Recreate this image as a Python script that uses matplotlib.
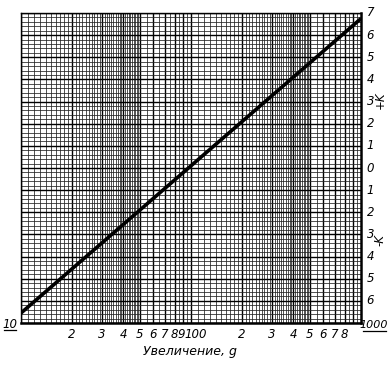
import numpy as np
import matplotlib
matplotlib.use("Agg")
import matplotlib.pyplot as plt
from matplotlib.lines import Line2D

# Data
g_vals = [10, 100, 1000]
k_vals = [-6.55, 0.1, 6.75]

x_tick_pos = [20, 30, 40, 50, 60, 70, 80, 90, 100, 200, 300, 400, 500, 600, 700, 800]
x_tick_lbl = ["2", "3", "4", "5", "6", "7", "8", "9", "100", "2", "3", "4", "5", "6", "7", "8"]
y_tick_pos = [7, 6, 5, 4, 3, 2, 1, 0, -1, -2, -3, -4, -5, -6]
y_tick_lbl = ["7", "6", "5", "4", "3", "2", "1", "0", "1", "2", "3", "4", "5", "6"]

FONT = ["Liberation Sans Narrow", "DejaVu Sans"]

fig = plt.figure(figsize=(3.89, 3.65), dpi=100)
ax = fig.add_axes([21/389, 1-323/365, 340/389, 310/365])
ax.set_xscale("log")
ax.set_xlim(10, 1000)
ax.set_ylim(-7, 7)

# grid (graph paper)
minor_x = []
for dec in (1, 10):
    minor_x += list(np.arange(10, 20, 1) * dec)
    minor_x += list(np.arange(20, 50, 1) * dec)
    minor_x += list(np.arange(50, 100, 5) * dec)
major_x = [v * d for d in (1, 10) for v in range(10, 100, 10)]
for v in minor_x:
    ax.axvline(v, color="#222222", lw=0.55, zorder=1)
for v in major_x:
    ax.axvline(v, color="black", lw=1.0, zorder=1)
minor_y = np.arange(-7, 7.01, 0.2)
for v in minor_y:
    ax.axhline(v, color="#222222", lw=0.55, zorder=1)
for v in range(-7, 8):
    ax.axhline(v, color="black", lw=1.0, zorder=1)

ax.plot(g_vals, k_vals, color="black", lw=2.6, zorder=3, solid_capstyle="butt")

ax.set_xticks([])
ax.set_yticks([])
ax.minorticks_off()
for s in ("left", "top"):
    ax.spines[s].set_linewidth(1.0)
for s in ("right", "bottom"):
    ax.spines[s].set_linewidth(1.8)

# x tick labels
shift = {"9": 0.975, "100": 1.07}
for p, l in zip(x_tick_pos, x_tick_lbl):
    px = p * shift.get(l, 1.0) if p in (90, 100) else p
    ax.text(px, -7.5, l, ha="center", va="center", fontsize=8.5, style="italic",
            family=FONT, transform=ax.transData, clip_on=False)
# y tick labels on right
for p, l in zip(y_tick_pos, y_tick_lbl):
    ax.text(1080, p, l, ha="left", va="center", fontsize=8.5, style="italic",
            family=FONT, clip_on=False)

# end labels underlined
fig.text(10/389, 1-324/365, "10", ha="center", va="center", fontsize=8.5,
         style="italic", family=FONT)
fig.text(374/389, 1-325/365, "1000", ha="center", va="center", fontsize=8,
         style="italic", family=FONT)
fig.add_artist(Line2D([4/389, 16/389], [1-330/365, 1-330/365], color="black", lw=0.9))
fig.add_artist(Line2D([363/389, 386/389], [1-331/365, 1-331/365], color="black", lw=0.9))

# axis labels
fig.text(190/389, 1-351/365, "Увеличение, g", ha="center", va="center", fontsize=9,
         style="italic", family=FONT)
fig.text(380/389, 1-100/365, "+K", ha="center", va="center", fontsize=8.5,
         style="italic", family=FONT, rotation=90)
fig.text(380/389, 1-240/365, "-K", ha="center", va="center", fontsize=8.5,
         style="italic", family=FONT, rotation=90)

fig.savefig("out.png", dpi=100, facecolor="white")
